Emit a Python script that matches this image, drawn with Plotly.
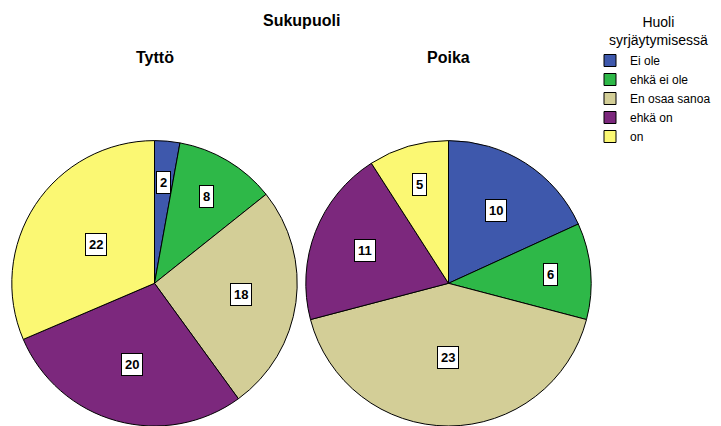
import math
import plotly.graph_objects as go

categories = ["Ei ole", "ehkä ei ole", "En osaa sanoa", "ehkä on", "on"]
tytto_values = [2, 8, 18, 20, 22]
poika_values = [10, 6, 23, 11, 5]
group_names = ["Tyttö", "Poika"]
colors = ["#3E58AC", "#2EB848", "#D3CE97", "#7C287D", "#FBF873"]

W, H = 721, 426
FONT = "Liberation Sans"

# pie placement (pixels) -> domains
R = 142.7
centers = [(154.5, 283.3), (448.5, 283.3)]
# label radial placement fraction per slice (style)
label_frac = [[0.71, 0.71, 0.61, 0.59, 0.49], [0.61, 0.72, 0.52, 0.63, 0.72]]

fig = go.Figure()
annotations = []
for gi, (vals, name) in enumerate(zip([tytto_values, poika_values], group_names)):
    cx, cy = centers[gi]
    dom_x = [max(0.0, (cx - R) / W), min(1.0, (cx + R) / W)]
    dom_y = [max(0.0, 1 - (cy + R) / H), min(1.0, 1 - (cy - R) / H)]
    fig.add_trace(go.Pie(
        labels=categories, values=vals, sort=False, direction="clockwise", rotation=0,
        marker=dict(colors=colors, line=dict(color="black", width=1)),
        textinfo="none", hoverinfo="label+value", domain=dict(x=dom_x, y=dom_y),
        name=name, showlegend=(gi == 0),
    ))
    total = sum(vals)
    cum = 0
    for i, v in enumerate(vals):
        mid = (cum + v / 2) / total * 2 * math.pi
        cum += v
        r = R * label_frac[gi][i]
        px = cx + r * math.sin(mid)
        py = cy - r * math.cos(mid)
        annotations.append(dict(
            x=px / W, y=1 - py / H, xref="paper", yref="paper", text=str(v), showarrow=False,
            xanchor="center", yanchor="middle",
            font=dict(family=FONT, size=13, color="black", weight="bold"),
            bgcolor="white", bordercolor="black", borderwidth=1, borderpad=3,
        ))
    annotations.append(dict(
        x=cx / W, y=1 - 57 / H, xref="paper", yref="paper", text="<b>" + name + "</b>", showarrow=False,
        font=dict(family=FONT, size=16, color="black"), xanchor="center", yanchor="middle",
    ))

annotations.append(dict(
    x=301 / W, y=1 - 20 / H, xref="paper", yref="paper", text="<b>Sukupuoli</b>", showarrow=False,
    font=dict(family=FONT, size=16, color="black"), xanchor="center", yanchor="middle",
))
# legend title
annotations.append(dict(
    x=658 / W, y=1 - 31 / H, xref="paper", yref="paper", text="Huoli<br>syrjäytymisessä",
    showarrow=False, align="center", xanchor="center", yanchor="middle",
    font=dict(family=FONT, size=14, color="black"),
))

fig.update_layout(
    width=W, height=H, margin=dict(l=0, r=0, t=0, b=0, autoexpand=False),
    paper_bgcolor="white", plot_bgcolor="white",
    annotations=annotations,
    legend=dict(
        x=590 / W, y=1 - 46 / H, xanchor="left", yanchor="top",
        font=dict(family=FONT, size=12, color="black"),
        traceorder="normal", itemwidth=30, bgcolor="rgba(0,0,0,0)",
    ),
)

fig.write_html("out.html", config={"displayModeBar": False},
               post_script="document.body.style.margin='0';document.body.style.overflow='hidden';")
